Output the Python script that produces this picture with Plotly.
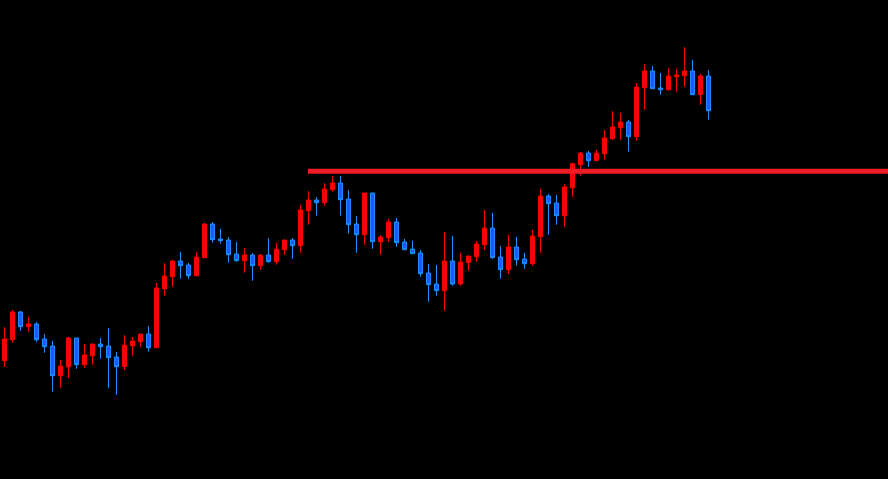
import plotly.graph_objects as go

idx = list(range(89))

opens = [118.3, 139.3, 167, 152.3, 155, 140, 133, 103.3, 112, 141,
         114.3, 123.3, 135, 133, 122, 112.3, 133.3, 137.3, 145, 131.3,
         190.3, 202.3, 218, 214, 203.3, 221.3, 255, 240, 239, 225,
         218.3, 224, 213.3, 224, 217.3, 229.3, 239, 233.3, 268.3, 279,
         276.3, 289.3, 296, 280, 255, 244.3, 286, 237.3, 241.3, 257,
         237, 230, 226, 206, 195, 188.3, 218, 195, 216.3, 222.3,
         234.3, 251, 222, 209.3, 232, 220, 215.3, 242.3, 283, 276,
         263.3, 291.3, 314.3, 326, 318.3, 325.3, 340.3, 351.3, 357, 342.3,
         391.3, 408, 391, 389.3, 402.3, 403.3, 408, 384.3, 403]
highs = [152, 169, 168, 162, 157, 145, 138, 119, 142, 141,
         135, 135, 141, 151, 127, 144, 142, 145, 153, 196,
         216, 219, 227, 216, 227, 256, 257, 250, 242, 237,
         231, 226, 225, 241, 236, 239, 241, 274, 288, 282,
         296, 303, 303, 289, 263, 286, 286, 244, 260, 261,
         240, 238.3, 229, 215, 214, 247, 243, 226, 223, 238,
         269, 266, 233, 244, 242, 226, 249, 290, 285, 284,
         295, 316.3, 327, 328, 329, 349, 368, 366, 359, 396,
         415, 413, 406, 411, 410, 432, 419, 405, 409]
lows = [112, 136.3, 148.3, 147.3, 137.3, 126.3, 87.3, 91.3, 101.3, 110.3,
        111.3, 114.3, 120.3, 91.3, 84.3, 109.3, 123.3, 132.3, 127.3, 131.3,
        183.3, 192.3, 200.3, 200.3, 202.3, 221.3, 236.3, 235.3, 216.3, 217.3,
        206.3, 198.3, 209.3, 216.3, 214.3, 224.3, 220.3, 226.3, 254.3, 263.3,
        273.3, 287.3, 263.3, 245.3, 226.3, 234.3, 230.3, 224.3, 237.3, 232.3,
        229.3, 225.3, 202.3, 177.3, 183.3, 168.3, 193.3, 193.3, 208.3, 217.3,
        229.3, 220.3, 200.3, 205.3, 213.3, 210.3, 213.3, 226.3, 244.3, 254.3,
        252.3, 282.3, 303.3, 312.3, 318.3, 319.3, 339.3, 339.3, 327.3, 338.3,
        369.3, 390.3, 384.3, 388.3, 387.3, 392.3, 384.3, 374.3, 359.3]
closes = [140, 167, 152.3, 155, 139.3, 132.3, 103.3, 113, 141, 114.3,
          124, 135, 132.3, 121.3, 112.3, 134, 138, 145, 131.3, 191,
          203, 218, 213.3, 203.3, 222, 255, 239.3, 238.3, 224.3, 218.3,
          224, 213.3, 224, 217.3, 230, 239, 233.3, 269, 279, 276.3,
          290, 296, 279.3, 254.3, 244.3, 286, 237.3, 242, 257, 236.3,
          229.3, 225.3, 205.3, 194.3, 188.3, 218, 195, 217, 223, 235,
          251, 221.3, 209.3, 232, 219.3, 215.3, 243, 283, 275.3, 263.3,
          292, 315.3, 326, 318.3, 326, 341, 352, 357, 342.3, 392,
          408, 390.3, 389.3, 403, 404, 408, 384.3, 403, 368.3]

level = 307.7
level_start = 37.94

fig = go.Figure(go.Candlestick(
    x=idx, open=opens, high=highs, low=lows, close=closes,
    increasing=dict(line=dict(color="#ff0000", width=1), fillcolor="#ff0000"),
    decreasing=dict(line=dict(color="#1e90ff", width=1), fillcolor="#2456ff"),
    whiskerwidth=0,
    showlegend=False,
))

x_lo, x_hi = -0.5625, (888 - 4.5) / 8
fig.add_shape(type="line", xref="x", yref="y",
              x0=level_start, x1=x_hi + 1, y0=level, y1=level,
              line=dict(color="#ee1c25", width=5))

fig.update_layout(
    width=888, height=479,
    margin=dict(l=0, r=0, t=0, b=0),
    paper_bgcolor="#000000", plot_bgcolor="#000000",
    xaxis=dict(range=[x_lo, x_hi], visible=False, rangeslider=dict(visible=False),
               showgrid=False, zeroline=False),
    yaxis=dict(range=[0, 479], visible=False, showgrid=False, zeroline=False),
)

fig.write_html(
    "out.html",
    config={"displayModeBar": False},
    post_script="document.body.style.margin='0';document.body.style.padding='0';"
                "document.body.style.background='#000';"
                "document.documentElement.style.background='#000';"
                "document.body.style.overflow='hidden';",
)
